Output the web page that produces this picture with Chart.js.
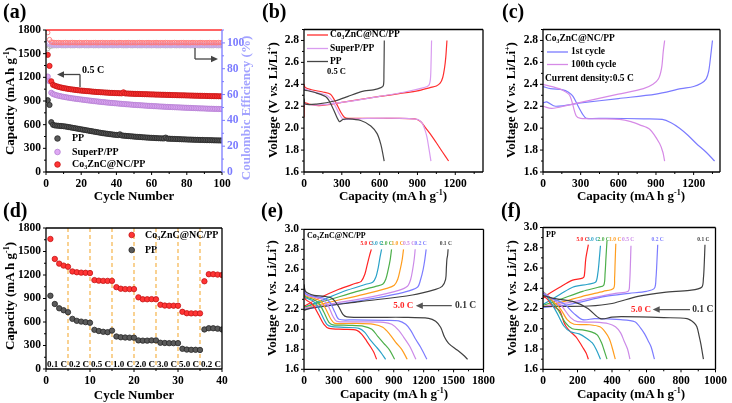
<!DOCTYPE html>
<html>
<head>
<meta charset="utf-8">
<script src="https://cdn.jsdelivr.net/npm/chart.js@4.4.1/dist/chart.umd.min.js"></script>
<style>
  html, body { margin: 0; padding: 0; background: #fff; }
  #fig { position: relative; width: 732px; height: 403px; overflow: hidden;
         font-family: "Liberation Serif", "Times New Roman", serif; font-weight: bold; }
  #fig canvas { position: absolute; }
  .lbl { position: absolute; font-size: 20px; line-height: 20px; }
  .t { position: absolute; font-size: 13px; line-height: 14px; white-space: nowrap;
       transform: translate(-50%, -50%); }
  .ty { transform: translate(-50%, -50%) rotate(-90deg); }
  .t sup { font-size: 8px; line-height: 0; vertical-align: 5px; }
</style>
</head>
<body>
<div id="fig">
  <canvas id="ca"></canvas>
  <canvas id="cb"></canvas>
  <canvas id="cc"></canvas>
  <canvas id="cd"></canvas>
  <canvas id="ce"></canvas>
  <canvas id="cf"></canvas>

  <div class="lbl" style="left:3px;top:1px">(a)</div>
  <div class="lbl" style="left:262px;top:1px">(b)</div>
  <div class="lbl" style="left:502px;top:1px">(c)</div>
  <div class="lbl" style="left:3px;top:200px">(d)</div>
  <div class="lbl" style="left:261px;top:200px">(e)</div>
  <div class="lbl" style="left:501px;top:200px">(f)</div>

  <div class="t ty" style="left:10px;top:101px">Capacity (mA h g<sup>-1</sup>)</div>
  <div class="t ty" style="left:246px;top:108px;color:#a3a3ff">Coulombic Efficiency (%)</div>
  <div class="t" style="left:134px;top:196px">Cycle Number</div>
  <div class="t ty" style="left:273px;top:100px">Voltage (V <i>vs.</i> Li/Li<sup>+</sup>)</div>
  <div class="t" style="left:393px;top:196px">Capacity (mA h g<sup>-1</sup>)</div>
  <div class="t ty" style="left:511px;top:100px">Voltage (V <i>vs.</i> Li/Li<sup>+</sup>)</div>
  <div class="t" style="left:631px;top:196px">Capacity (mA h g<sup>-1</sup>)</div>
  <div class="t ty" style="left:10px;top:296px">Capacity (mA h g<sup>-1</sup>)</div>
  <div class="t" style="left:134px;top:395px">Cycle Number</div>
  <div class="t ty" style="left:272px;top:298px">Voltage (V <i>vs.</i> Li/Li<sup>+</sup>)</div>
  <div class="t" style="left:394px;top:394px">Capacity (mA h g<sup>-1</sup>)</div>
  <div class="t ty" style="left:512px;top:298px">Voltage (V <i>vs.</i> Li/Li<sup>+</sup>)</div>
  <div class="t" style="left:631px;top:394px">Capacity (mA h g<sup>-1</sup>)</div>
</div>

<script>
// ---------- (a) long cycling at 0.5 C, cycles 1..100 ----------
const aPP = [910, 850, 632, 598, 590, 588, 586, 584, 582, 580,
  577, 573, 569, 565, 561, 557, 553, 549, 545, 541,
  537, 533, 529, 525, 521, 517, 513, 509, 505, 501,
  497, 493, 490, 487, 484, 481, 478, 475, 472, 470,
  467, 478, 463, 461, 459, 457, 455, 453, 451, 449,
  447, 445, 444, 442, 440, 439, 437, 436, 434, 433,
  432, 430, 429, 428, 427, 426, 425, 436, 423, 422,
  421, 420, 419, 418, 417, 416, 415, 414, 413, 412,
  411, 411, 410, 409, 408, 408, 407, 406, 406, 405,
  404, 404, 403, 403, 402, 401, 401, 400, 400, 399];
const aSP = [1210, 1150, 1005, 988, 980, 973, 967, 962, 957, 953,
  949, 945, 941, 938, 934, 931, 928, 925, 922, 919,
  916, 913, 910, 907, 905, 902, 899, 897, 894, 892,
  889, 887, 885, 882, 880, 878, 876, 874, 872, 870,
  868, 866, 864, 862, 860, 858, 857, 855, 853, 851,
  850, 848, 847, 845, 844, 842, 841, 839, 838, 837,
  835, 834, 833, 831, 830, 829, 828, 826, 825, 824,
  823, 822, 821, 820, 819, 818, 817, 816, 815, 814,
  813, 812, 811, 810, 809, 808, 807, 806, 806, 805,
  804, 803, 802, 802, 801, 800, 800, 799, 798, 798];
const aCo = [1485, 1345, 1150, 1105, 1095, 1087, 1080, 1074, 1069, 1064,
  1060, 1056, 1052, 1049, 1046, 1043, 1040, 1037, 1034, 1032,
  1030, 1028, 1026, 1024, 1022, 1020, 1018, 1016, 1014, 1013,
  1011, 1010, 1008, 1007, 1006, 1004, 1003, 1002, 1001, 1000,
  999, 998, 997, 1010, 996, 995, 994, 993, 992, 991,
  990, 990, 989, 988, 987, 986, 986, 985, 984, 983,
  983, 982, 981, 981, 980, 979, 979, 978, 977, 977,
  976, 975, 975, 974, 973, 973, 972, 972, 971, 970,
  970, 969, 969, 968, 967, 967, 966, 966, 965, 965,
  964, 963, 963, 962, 962, 961, 961, 960, 960, 959];
const aCEPP = [95.5, 97.2, 97.6, 97.8, 97.9, 97.8, 97.9, 98.0, 97.8, 97.9,
  97.8, 97.9, 98.0, 97.8, 97.9, 97.8, 98.0, 97.9, 97.8, 97.9,
  98.0, 97.8, 97.9, 97.8, 97.9, 98.0, 97.8, 97.9, 97.9, 97.8,
  98.0, 97.9, 97.8, 97.9, 97.8, 98.0, 97.9, 97.8, 97.9, 97.9,
  97.8, 98.0, 97.9, 97.8, 97.9, 97.8, 98.0, 97.9, 97.8, 97.9,
  98.0, 97.8, 97.9, 97.8, 97.9, 98.0, 97.8, 97.9, 97.9, 97.8,
  98.0, 97.9, 97.8, 97.9, 97.8, 98.0, 97.9, 97.8, 97.9, 97.9,
  97.8, 98.0, 97.9, 97.8, 97.9, 97.8, 98.0, 97.9, 97.8, 97.9,
  98.0, 97.8, 97.9, 97.8, 97.9, 98.0, 97.8, 97.9, 97.9, 97.8,
  98.0, 97.9, 97.8, 97.9, 97.8, 98.0, 97.9, 97.8, 97.9, 97.9];
const aCESP = [99.8, 98.9, 98.6, 98.4, 98.3, 98.4, 98.3, 98.2, 98.4, 98.3,
  98.2, 98.3, 98.4, 98.3, 98.2, 98.3, 98.4, 98.2, 98.3, 98.3,
  98.4, 98.2, 98.3, 98.3, 98.4, 98.2, 98.3, 98.4, 98.3, 98.2,
  98.3, 98.4, 98.2, 98.3, 98.3, 98.4, 98.2, 98.3, 98.4, 98.3,
  98.2, 98.3, 98.4, 98.3, 98.2, 98.3, 98.4, 98.2, 98.3, 98.3,
  98.4, 98.2, 98.3, 98.3, 98.4, 98.2, 98.3, 98.4, 98.3, 98.2,
  98.3, 98.4, 98.2, 98.3, 98.3, 98.4, 98.2, 98.3, 98.4, 98.3,
  98.2, 98.3, 98.4, 98.3, 98.2, 98.3, 98.4, 98.2, 98.3, 98.3,
  98.4, 98.2, 98.3, 98.3, 98.4, 98.2, 98.3, 98.4, 98.3, 98.2,
  98.3, 98.4, 98.2, 98.3, 98.3, 98.4, 98.2, 98.3, 98.4, 98.3];
const aCECo = [108.0, 102.6, 100.7, 100.4, 100.3, 100.2, 100.3, 100.2, 100.1, 100.2,
  100.3, 100.2, 100.1, 100.2, 100.3, 100.2, 100.2, 100.1, 100.3, 100.2,
  100.1, 100.2, 100.3, 100.2, 100.1, 100.2, 100.2, 100.3, 100.1, 100.2,
  100.2, 100.3, 100.1, 100.2, 100.2, 100.1, 100.3, 100.2, 100.2, 100.1,
  100.2, 100.3, 100.2, 100.1, 100.2, 100.2, 100.3, 100.1, 100.2, 100.2,
  100.1, 100.2, 100.3, 100.2, 100.2, 100.1, 100.2, 100.3, 100.2, 100.1,
  100.2, 100.2, 100.3, 100.1, 100.2, 100.2, 100.1, 100.3, 100.2, 100.2,
  100.1, 100.2, 100.3, 100.2, 100.1, 100.2, 100.2, 100.3, 100.1, 100.2,
  100.2, 100.1, 100.3, 100.2, 100.2, 100.1, 100.2, 100.3, 100.2, 100.1,
  100.2, 100.2, 100.3, 100.1, 100.2, 100.2, 100.1, 100.3, 100.2, 100.2];
const aXTicks = [0, 20, 40, 60, 80, 100];
const capTicks1800 = [0, 300, 600, 900, 1200, 1500, 1800];
const aCETicks = [0, 20, 40, 60, 80, 100];

// ---------- (b) voltage profiles at 0.5 C: [capacity, voltage] ----------
const bCoDis = [[0,2.40],[10,2.37],[60,2.35],[150,2.33],[210,2.31],[250,2.24],[290,2.15],[320,2.10],[350,2.09],[500,2.09],[700,2.09],[880,2.085],[925,2.06],[960,2.01],[1000,1.95],[1054,1.86],[1100,1.78],[1147,1.70]];
const bCoCha = [[0,2.10],[3,2.23],[40,2.22],[120,2.205],[300,2.235],[600,2.29],[900,2.34],[1000,2.37],[1050,2.385],[1080,2.41],[1100,2.46],[1115,2.55],[1125,2.65],[1134,2.80]];
const bSpDis = [[0,2.36],[80,2.33],[180,2.30],[230,2.24],[280,2.13],[310,2.08],[340,2.08],[500,2.09],[800,2.09],[900,2.08],[935,2.05],[955,2.00],[975,1.92],[990,1.82],[1000,1.75],[1007,1.70]];
const bSpCha = [[0,2.22],[100,2.21],[300,2.235],[600,2.29],[800,2.33],[950,2.37],[990,2.39],[1003,2.45],[1008,2.60],[1012,2.80]];
const bPPDis = [[0,2.35],[100,2.32],[180,2.28],[230,2.18],[280,2.06],[310,2.08],[340,2.085],[450,2.07],[530,2.02],[580,1.95],[610,1.85],[628,1.75],[636,1.70]];
const bPPCha = [[0,2.27],[10,2.22],[100,2.22],[250,2.25],[350,2.29],[420,2.32],[480,2.34],[550,2.35],[610,2.37],[630,2.39],[634,2.50],[637,2.80]];
const capTicks1200 = [0, 300, 600, 900, 1200];
const vTicks28 = [1.6, 1.8, 2.0, 2.2, 2.4, 2.6, 2.8];

// ---------- (c) Co3ZnC@NC/PP, 1st and 100th cycle ----------
const c1Dis = [[0,2.38],[60,2.36],[159,2.35],[200,2.33],[239,2.29],[280,2.20],[320,2.12],[345,2.09],[500,2.09],[800,2.085],[950,2.08],[1020,2.05],[1088,2.00],[1150,1.94],[1221,1.86],[1300,1.78],[1367,1.70]];
const c1Cha = [[0,2.23],[30,2.24],[100,2.20],[300,2.23],[600,2.27],[900,2.31],[1100,2.36],[1200,2.38],[1261,2.41],[1300,2.45],[1320,2.52],[1335,2.65],[1350,2.80]];
const c100Dis = [[0,2.40],[100,2.37],[150,2.35],[212,2.30],[265,2.11],[300,2.09],[450,2.085],[611,2.08],[700,2.06],[770,2.03],[850,1.99],[929,1.86],[955,1.78],[969,1.70]];
const c100Cha = [[0,2.20],[70,2.18],[200,2.21],[400,2.26],[600,2.31],[800,2.36],[876,2.40],[920,2.45],[945,2.55],[958,2.70],[969,2.80]];

// ---------- (d) rate capability, cycles 1..40 ----------
const dCo = [1660, 1405, 1345, 1320, 1305, 1245, 1235, 1230, 1228, 1225,
  1135, 1128, 1125, 1125, 1125, 1045, 1025, 1020, 1020, 1020,
  915, 890, 890, 892, 890, 820, 810, 808, 808, 808,
  730, 712, 710, 710, 710, 1120, 1210, 1210, 1205, 1200];
const dPP = [935, 830, 775, 750, 725, 640, 615, 605, 598, 590,
  500, 485, 475, 470, 490, 415, 405, 402, 400, 400,
  365, 362, 362, 365, 365, 335, 332, 330, 330, 330,
  258, 248, 245, 245, 243, 505, 520, 520, 515, 505];
const dRateNames = ['0.1 C', '0.2 C', '0.5 C', '1.0 C', '2.0 C', '3.0 C', '5.0 C', '0.2 C'];
const dRateBounds = [5, 10, 15, 20, 25, 30, 35];
const dXTicks = [0, 10, 20, 30, 40];

// ---------- (e), (f) profiles at rates 0.1 .. 5.0 C ----------
const rateNames = ['0.1 C', '0.2 C', '0.5 C', '1.0 C', '2.0 C', '3.0 C', '5.0 C'];
const rateColors = ['#404040', '#7c7cff', '#cc8ae8', '#ff9d1e', '#4daf4a', '#2aa2c8', '#ff2424'];

const eDis = [
  [[0,2.45],[15,2.38],[100,2.34],[200,2.33],[280,2.31],[340,2.24],[390,2.15],[430,2.125],[700,2.12],[1000,2.12],[1250,2.11],[1320,2.08],[1370,2.02],[1410,1.92],[1450,1.86],[1540,1.79],[1600,1.74],[1640,1.70]],
  [[0,2.43],[15,2.36],[100,2.33],[200,2.31],[260,2.27],[310,2.17],[350,2.10],[500,2.095],[800,2.09],[950,2.085],[1020,2.05],[1070,1.99],[1120,1.90],[1170,1.82],[1232,1.70]],
  [[0,2.42],[15,2.35],[100,2.32],[180,2.30],[240,2.24],[290,2.13],[330,2.08],[500,2.075],[800,2.07],[880,2.05],[950,1.99],[1000,1.92],[1060,1.83],[1122,1.70]],
  [[0,2.41],[15,2.34],[100,2.31],[170,2.28],[220,2.20],[270,2.10],[310,2.06],[500,2.06],[700,2.05],[790,2.02],[860,1.95],[920,1.87],[980,1.80],[1035,1.70]],
  [[0,2.40],[15,2.33],[90,2.30],[150,2.26],[200,2.17],[250,2.07],[290,2.045],[450,2.04],[600,2.03],[680,2.00],[740,1.93],[800,1.86],[860,1.79],[909,1.70]],
  [[0,2.39],[15,2.32],[80,2.29],[130,2.24],[180,2.14],[230,2.05],[270,2.03],[400,2.02],[550,2.01],[610,1.97],[660,1.90],[720,1.83],[770,1.77],[818,1.70]],
  [[0,2.38],[15,2.30],[60,2.27],[100,2.23],[150,2.14],[200,2.05],[250,2.01],[400,2.00],[530,1.99],[580,1.95],[630,1.88],[670,1.82],[700,1.77],[728,1.70]]
];
const eCha = [
  [[0,2.19],[60,2.21],[557,2.276],[1087,2.343],[1320,2.40],[1385,2.43],[1420,2.50],[1428,2.62],[1433,2.70],[1440,2.74],[1445,2.80]],
  [[0,2.20],[300,2.245],[700,2.31],[1000,2.37],[1137,2.42],[1170,2.50],[1195,2.60],[1212,2.70],[1225,2.80]],
  [[0,2.21],[300,2.26],[700,2.33],[950,2.39],[1037,2.43],[1070,2.50],[1090,2.60],[1105,2.70],[1115,2.80]],
  [[0,2.21],[250,2.27],[600,2.35],[830,2.41],[905,2.44],[940,2.50],[965,2.60],[985,2.70],[998,2.80]],
  [[0,2.22],[200,2.28],[500,2.37],[720,2.43],[789,2.45],[820,2.50],[845,2.60],[865,2.70],[878,2.80]],
  [[0,2.22],[180,2.29],[400,2.38],[620,2.45],[689,2.47],[720,2.52],[745,2.62],[762,2.72],[778,2.80]],
  [[0,2.23],[150,2.31],[350,2.40],[520,2.46],[574,2.48],[610,2.55],[635,2.65],[655,2.73],[675,2.80]]
];
const fDis = [
  [[0,2.33],[60,2.30],[172,2.27],[260,2.20],[333,2.10],[400,2.115],[456,2.12],[700,2.11],[835,2.10],[875,2.06],[892,2.02],[905,1.93],[915,1.85],[930,1.70]],
  [[0,2.35],[50,2.30],[120,2.25],[180,2.15],[229,2.09],[300,2.10],[450,2.09],[532,2.07],[565,2.01],[589,1.95],[610,1.88],[627,1.82],[646,1.70]],
  [[0,2.36],[50,2.30],[110,2.22],[160,2.11],[200,2.07],[300,2.065],[380,2.05],[420,2.02],[450,1.96],[470,1.88],[490,1.80],[504,1.70]],
  [[0,2.36],[40,2.30],[100,2.20],[140,2.09],[180,2.045],[270,2.04],[330,2.02],[360,1.97],[385,1.90],[400,1.82],[419,1.70]],
  [[0,2.37],[40,2.30],[90,2.18],[130,2.06],[170,2.00],[229,1.99],[280,1.97],[314,1.94],[340,1.86],[352,1.80],[371,1.70]],
  [[0,2.36],[30,2.30],[80,2.16],[120,2.03],[160,1.97],[210,1.95],[250,1.91],[286,1.86],[310,1.79],[333,1.70]],
  [[0,2.32],[21,2.30],[60,2.22],[97,2.18],[120,2.07],[135,2.02],[160,1.97],[191,1.92],[215,1.86],[229,1.82],[250,1.76],[263,1.70]]
];
const fCha = [
  [[0,2.22],[40,2.22],[267,2.225],[400,2.25],[551,2.32],[703,2.36],[850,2.38],[920,2.41],[930,2.50],[935,2.65],[939,2.83]],
  [[0,2.21],[150,2.24],[362,2.32],[500,2.35],[600,2.37],[646,2.40],[655,2.50],[660,2.65],[665,2.83]],
  [[0,2.22],[120,2.25],[300,2.31],[420,2.35],[494,2.37],[502,2.45],[506,2.60],[510,2.82]],
  [[0,2.22],[100,2.26],[250,2.33],[350,2.37],[409,2.40],[415,2.50],[418,2.65],[422,2.84]],
  [[0,2.23],[100,2.29],[230,2.37],[320,2.41],[352,2.43],[360,2.55],[365,2.70],[371,2.87]],
  [[0,2.24],[100,2.34],[172,2.41],[260,2.44],[305,2.46],[318,2.55],[326,2.68],[333,2.82]],
  [[0,2.30],[11,2.32],[97,2.41],[172,2.48],[229,2.50],[239,2.52],[248,2.69],[263,2.83]]
];
const vTicks30 = [1.6, 1.8, 2.0, 2.2, 2.4, 2.6, 2.8, 3.0];
const fXTicks = [0, 200, 400, 600, 800, 1000];

// ---------- helpers ----------
const FAM = '"Liberation Serif", "Times New Roman", serif';
const font = (s) => ({ family: FAM, size: s, weight: 'bold' });
const pts = (arr) => arr.map(([x, y]) => ({ x, y }));
const byCycle = (arr) => arr.map((y, i) => ({ x: i + 1, y }));

function scale(side, min, max, ticks, size, color, dec) {
  return {
    type: 'linear', position: side, min, max,
    grid: { display: false, drawTicks: false },
    border: { display: false },
    ticks: {
      padding: 5, color: color || '#000', font: font(11.5), autoSkip: false, maxRotation: 0,
      callback: (v) => dec ? Number(v).toFixed(dec) : String(v)
    },
    afterBuildTicks: (s) => { s.ticks = ticks.map((v) => ({ value: v })); },
    afterFit: (s) => { if (side === 'bottom') s.height = size; else s.width = size; }
  };
}

function place(id, cv) {
  const el = document.getElementById(id);
  el.width = cv[2]; el.height = cv[3];
  el.style.left = cv[0] + 'px'; el.style.top = cv[1] + 'px';
  return el;
}

function opts(scales, padTop, padRight) {
  return {
    responsive: false, animation: false, devicePixelRatio: 1,
    layout: { padding: { top: padTop, right: padRight, left: 0, bottom: 0 } },
    plugins: { legend: { display: false }, tooltip: { enabled: false } },
    scales
  };
}

// frame with outward major + minor ticks on left/bottom (and right if y2)
function frame(colors) {
  return {
    id: 'frame',
    afterDatasetsDraw(chart) {
      const { ctx, chartArea: a, scales } = chart;
      ctx.save();
      ctx.lineWidth = 1.3;
      const side = (c, x1, y1, x2, y2) => { ctx.strokeStyle = c; ctx.beginPath(); ctx.moveTo(x1, y1); ctx.lineTo(x2, y2); ctx.stroke(); };
      side(colors.top || '#000', a.left, a.top, a.right, a.top);
      side('#000', a.left, a.bottom, a.right, a.bottom);
      side('#000', a.left, a.top, a.left, a.bottom);
      side(colors.right || '#000', a.right, a.top, a.right, a.bottom);
      const marks = (s, draw) => {
        const v = s.ticks.map((t) => t.value);
        const step = v[1] - v[0];
        v.forEach((t) => draw(s.getPixelForValue(t), 3));
        for (let m = v[0] - step / 2; m <= s.max + 1e-9; m += step) {
          if (m >= s.min - 1e-9) draw(s.getPixelForValue(m), 2);
        }
      };
      ctx.lineWidth = 1;
      ctx.strokeStyle = '#000';
      marks(scales.x, (p, l) => side('#000', p, a.bottom, p, a.bottom + l));
      marks(scales.y, (p, l) => side('#000', a.left, p, a.left - l, p));
      if (scales.y2) marks(scales.y2, (p, l) => side(colors.right, a.right, p, a.right + l, p));
      ctx.restore();
    }
  };
}

function arrow(ctx, x1, y1, x2, y2, color) {
  const ang = Math.atan2(y2 - y1, x2 - x1);
  ctx.strokeStyle = color; ctx.fillStyle = color; ctx.lineWidth = 1.3;
  ctx.beginPath(); ctx.moveTo(x1, y1); ctx.lineTo(x2 - 4 * Math.cos(ang), y2 - 4 * Math.sin(ang)); ctx.stroke();
  ctx.beginPath();
  ctx.moveTo(x2, y2);
  ctx.lineTo(x2 - 7 * Math.cos(ang) + 3.2 * Math.sin(ang), y2 - 7 * Math.sin(ang) - 3.2 * Math.cos(ang));
  ctx.lineTo(x2 - 7 * Math.cos(ang) - 3.2 * Math.sin(ang), y2 - 7 * Math.sin(ang) + 3.2 * Math.cos(ang));
  ctx.closePath(); ctx.fill();
}

function text(ctx, s, x, y, size, color, align) {
  ctx.font = 'bold ' + size + 'px ' + FAM;
  ctx.fillStyle = color || '#000';
  ctx.textAlign = align || 'left';
  ctx.textBaseline = 'middle';
  ctx.fillText(s, x, y);
}

function dotMark(ctx, x, y, fill, edge, r) {
  ctx.beginPath(); ctx.arc(x, y, r, 0, Math.PI * 2);
  ctx.fillStyle = fill; ctx.fill();
  ctx.strokeStyle = edge; ctx.lineWidth = 0.8; ctx.stroke();
}

// page-coordinate notes drawn on a canvas placed at cv
function notes(cv, fn) {
  return {
    id: 'notes',
    afterDraw(chart) {
      const ctx = chart.ctx;
      ctx.save();
      ctx.translate(-cv[0], -cv[1]);
      fn(ctx, chart);
      ctx.restore();
    }
  };
}

const dots = (data, fill, edge, r, axis, order) => ({
  data, backgroundColor: fill, borderColor: edge, borderWidth: 0.8,
  pointRadius: r, yAxisID: axis || 'y', order: order || 0
});
const ring = (data, edge, order) => ({
  data, backgroundColor: 'rgba(255,255,255,0)', borderColor: edge, borderWidth: 0.9,
  pointRadius: 2.2, yAxisID: 'y2', order
});
const curve = (arr, color) => ({
  data: pts(arr), borderColor: color, borderWidth: 1.2, pointRadius: 0,
  showLine: true, tension: 0.3, fill: false
});

const RED = '#ff2e2e', PURP = '#d99cf0', GREY = '#454545';
const BLUE_AX = '#7b7bff';

// ---------- (a) ----------
const cvA = [0, 0, 256, 205];
new Chart(place('ca', cvA), {
  type: 'scatter',
  data: { datasets: [
    dots(byCycle(aCo), '#ff3535', '#c41414', 2.6, 'y', 1),
    dots(byCycle(aSP), '#dfa8f4', '#b47fd2', 2.6, 'y', 2),
    dots(byCycle(aPP), '#5a5a5a', '#262626', 2.6, 'y', 3),
    ring(byCycle(aCECo), '#ff7a7a', 4),
    ring(byCycle(aCESP), '#c8a4ec', 5),
    ring(byCycle(aCEPP), '#b4b4b4', 6)
  ] },
  options: opts({
    x: scale('bottom', 0, 100, aXTicks, 33),
    y: scale('left', 0, 1800, capTicks1800, 46),
    y2: scale('right', 0, 110, aCETicks, 34, BLUE_AX)
  }, 30, 0),
  plugins: [frame({ top: '#ff3030', right: BLUE_AX }), notes(cvA, (ctx) => {
    arrow(ctx, 80, 74.5, 57, 74.5, '#444');
    ctx.beginPath(); ctx.moveTo(80, 74.5); ctx.lineTo(80, 87); ctx.stroke();
    text(ctx, '0.5 C', 82, 70, 10, '#000');
    ctx.strokeStyle = '#444'; ctx.lineWidth = 1.3;
    ctx.beginPath(); ctx.moveTo(195, 48); ctx.lineTo(195, 59); ctx.stroke();
    arrow(ctx, 195, 59, 218, 59, '#444');
    dotMark(ctx, 57.5, 138.5, '#5a5a5a', '#262626', 2.8);
    dotMark(ctx, 57.5, 152, '#dfa8f4', '#b47fd2', 2.8);
    dotMark(ctx, 57.5, 164.5, '#ff3535', '#c41414', 2.8);
    text(ctx, 'PP', 72, 138.5, 10);
    text(ctx, 'SuperP/PP', 72, 152, 10);
    text(ctx, 'Co₃ZnC@NC/PP', 72, 164.5, 10);
  })]
});

// ---------- (b) ----------
const cvB = [250, 0, 240, 205];
new Chart(place('cb', cvB), {
  type: 'scatter',
  data: { datasets: [
    curve(bPPDis, GREY), curve(bPPCha, GREY),
    curve(bSpDis, PURP), curve(bSpCha, PURP),
    curve(bCoDis, RED), curve(bCoCha, RED)
  ] },
  options: opts({
    x: scale('bottom', 0, 1420, capTicks1200, 33),
    y: scale('left', 1.6, 2.9, vTicks28, 54, null, 1)
  }, 29.5, 7),
  plugins: [frame({}), notes(cvB, (ctx) => {
    const rows = [['Co₃ZnC@NC/PP', RED, 35], ['SuperP/PP', PURP, 48.5], ['PP', GREY, 61.5]];
    rows.forEach(([s, c, y]) => {
      ctx.strokeStyle = c; ctx.lineWidth = 1.3;
      ctx.beginPath(); ctx.moveTo(307, y); ctx.lineTo(328, y); ctx.stroke();
      text(ctx, s, 330, y, 9.5);
    });
    text(ctx, '0.5 C', 327, 72, 8.5);
  })]
});

// ---------- (c) ----------
const cvC = [490, 0, 242, 205];
const C1 = '#7b7bff', C100 = '#d68ae6';
new Chart(place('cc', cvC), {
  type: 'scatter',
  data: { datasets: [
    curve(c100Dis, C100), curve(c100Cha, C100),
    curve(c1Dis, C1), curve(c1Cha, C1)
  ] },
  options: opts({
    x: scale('bottom', 0, 1410, capTicks1200, 33),
    y: scale('left', 1.6, 2.9, vTicks28, 53, null, 1)
  }, 29.5, 12),
  plugins: [frame({}), notes(cvC, (ctx) => {
    text(ctx, 'Co₃ZnC@NC/PP', 545, 38.5, 9.5);
    ctx.lineWidth = 1.3;
    ctx.strokeStyle = C1; ctx.beginPath(); ctx.moveTo(547, 52); ctx.lineTo(568, 52); ctx.stroke();
    text(ctx, '1st cycle', 571, 52, 9.5);
    ctx.strokeStyle = C100; ctx.beginPath(); ctx.moveTo(547, 64.5); ctx.lineTo(568, 64.5); ctx.stroke();
    text(ctx, '100th cycle', 571, 64.5, 9.5);
    text(ctx, 'Current density:0.5 C', 545, 78.5, 9.5);
  })]
});

// ---------- (d) ----------
const cvD = [0, 205, 250, 198];
new Chart(place('cd', cvD), {
  type: 'scatter',
  data: { datasets: [
    dots(byCycle(dCo), '#ff3535', '#c41414', 2.7),
    dots(byCycle(dPP), '#5a5a5a', '#262626', 2.7)
  ] },
  options: opts({
    x: scale('bottom', 0, 40, dXTicks, 34),
    y: scale('left', 0, 1800, capTicks1800, 46)
  }, 23, 28),
  plugins: [frame({}), {
    id: 'rates',
    beforeDatasetsDraw(chart) {
      const { ctx, chartArea: a, scales: { x, y } } = chart;
      ctx.save();
      ctx.strokeStyle = '#f6b44a'; ctx.lineWidth = 1.2; ctx.setLineDash([4, 3]);
      dRateBounds.forEach((b) => {
        const p = x.getPixelForValue(b);
        ctx.beginPath(); ctx.moveTo(p, a.top); ctx.lineTo(p, a.bottom); ctx.stroke();
      });
      ctx.setLineDash([]);
      dRateNames.forEach((s, i) => text(ctx, s, x.getPixelForValue(2.5 + 5 * i), y.getPixelForValue(50), 9, '#000', 'center'));
      ctx.restore();
    }
  }, notes(cvD, (ctx) => {
    dotMark(ctx, 131.7, 235, '#ff3535', '#c41414', 2.8);
    dotMark(ctx, 131.7, 250, '#5a5a5a', '#262626', 2.8);
    text(ctx, 'Co₃ZnC@NC/PP', 145, 235, 10);
    text(ctx, 'PP', 145, 250, 10);
  })]
});

// rate profile chart for (e) and (f)
function rateChart(id, cv, dis, cha, xMax, xTicks, yWidth, padTop, padRight, lab) {
  const sets = [];
  dis.forEach((d, i) => sets.push(curve(d, rateColors[i])));
  cha.forEach((d, i) => sets.push(curve(d, rateColors[i])));
  new Chart(place(id, cv), {
    type: 'scatter',
    data: { datasets: sets },
    options: opts({
      x: scale('bottom', 0, xMax, xTicks, 403 - 369.3 - (403 - cv[1] - cv[3])),
      y: scale('left', 1.6, 3.0, vTicks30, yWidth, null, 1)
    }, padTop, padRight),
    plugins: [frame({}), {
      id: 'rateNotes',
      afterDraw(chart) {
        const { ctx, scales: { x, y } } = chart;
        ctx.save();
        rateNames.forEach((s, i) => text(ctx, s, x.getPixelForValue(lab.tops[i]), y.getPixelForValue(lab.topV), lab.small, rateColors[i], 'center'));
        const yy = y.getPixelForValue(lab.arrV);
        arrow(ctx, x.getPixelForValue(lab.arrFrom), yy, x.getPixelForValue(lab.arrTo), yy, '#555');
        text(ctx, '5.0 C', x.getPixelForValue(lab.fast), yy, 9, '#ff2424', 'center');
        text(ctx, '0.1 C', x.getPixelForValue(lab.slow), yy, 9.5, '#333', 'center');
        text(ctx, lab.title, chart.chartArea.left + 3, chart.chartArea.top + 7, lab.tsize);
        ctx.restore();
      }
    }]
  });
}

// ---------- (e) ----------
rateChart('ce', [250, 205, 250, 198], eDis, eCha, 1800, capTicks1800, 54, 24.3, 15, {
  tops: [1422, 1170, 1054, 938, 829, 733, 627], topV: 2.86, small: 5.5,
  arrV: 2.236, arrFrom: 1482, arrTo: 1121, fast: 995, slow: 1621,
  title: 'Co₃ZnC@NC/PP', tsize: 8
});

// ---------- (f) ----------
rateChart('cf', [490, 205, 242, 198], fDis, fCha, 1000, fXTicks, 53, 22.5, 13, {
  tops: [930, 665, 494, 419, 352, 290, 229], topV: 2.885, small: 5.5,
  arrV: 2.19, arrFrom: 852, arrTo: 636, fast: 568, slow: 926,
  title: 'PP', tsize: 8
});
</script>
</body>
</html>
